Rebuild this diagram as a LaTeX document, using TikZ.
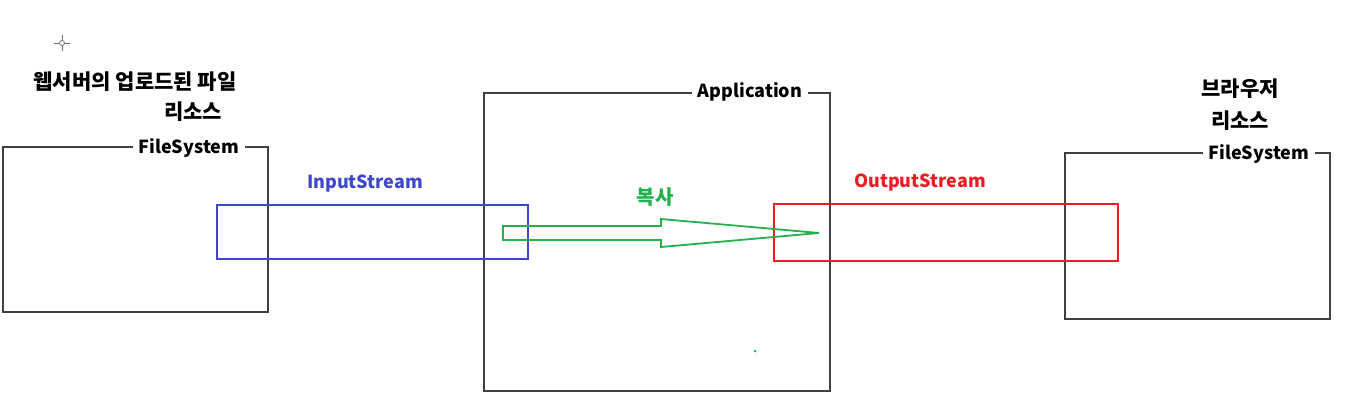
\documentclass[tikz,border=0pt]{standalone}
\usepackage{fontspec}
\setmainfont{Noto Sans CJK KR}
\definecolor{inblue}{RGB}{63,72,204}
\definecolor{outred}{RGB}{237,28,36}
\definecolor{cpgreen}{RGB}{34,177,76}

\begin{document}
\begin{tikzpicture}[
  x=0.5pt, y=-0.5pt,
  fsbox/.style  ={draw=black!75, line width=0.55pt, inner sep=0pt},
  boxtitle/.style={fill=white, inner xsep=3pt, inner ysep=1.5pt, font=\bfseries\fontsize{9}{10}\selectfont},
  krlabel/.style={inner sep=0pt, font=\bfseries\fontsize{10.5}{12}\selectfont},
  stream/.style ={draw, line width=1pt, inner sep=0pt},
  slabel/.style ={inner sep=0pt, font=\bfseries\fontsize{9}{10}\selectfont},
]
\useasboundingbox (0,0) rectangle (1348,406);

% ============================ cursor mark ===================================
\draw[black!55, line width=0.4pt] (54,43) -- (70,43) (62,35) -- (62,51);
\draw[black!55, line width=0.4pt, fill=white] (62,43) circle (2.5);

% ============================ web server side ===============================
\node[fsbox, minimum width=132.5pt, minimum height=82.5pt] (fsL) at (135.5,229.5) {};
\node[boxtitle] (fsLt) at (189,147.5) {FileSystem};
\node[krlabel] (srvL) at (135,82)  {웹서버의 업로드된 파일};
\node[krlabel] (resL) at (193,112) {리소스};

% ============================ application ===================================
\node[fsbox, minimum width=173pt, minimum height=149pt] (app) at (657,242) {};
\node[boxtitle] (appt) at (750,91.5) {Application};

% ============================ browser side ==================================
\node[fsbox, minimum width=132.5pt, minimum height=83pt] (fsR) at (1197.5,236) {};
\node[boxtitle] (fsRt) at (1259,153.5) {FileSystem};
\node[krlabel] (brwR) at (1240,89)  {브라우저};
\node[krlabel] (resR) at (1240,121) {리소스};

% ============================ streams =======================================
\node[stream, draw=inblue, minimum width=155.5pt, minimum height=27pt] (ins) at (372.5,232) {};
\node[slabel, text=inblue] (inst) at (365,184) {InputStream};
\node[stream, draw=outred, minimum width=172pt, minimum height=28.5pt] (outs) at (946,232.5) {};
\node[slabel, text=outred] (outst) at (920,183) {OutputStream};

% copy arrow: long thin head reaching into the output stream
\draw[cpgreen, line width=0.9pt, line join=miter]
  (503,226) -- (661,226) -- (661,219) -- (819,233) -- (661,247) -- (661,240)
  -- (503,240) -- cycle;
\node[krlabel, text=cpgreen, font=\bfseries\fontsize{10}{12}\selectfont] (copy) at (655,197) {복사};

\fill[cpgreen] (755,351) circle (1.5);
\end{tikzpicture}
\end{document}
